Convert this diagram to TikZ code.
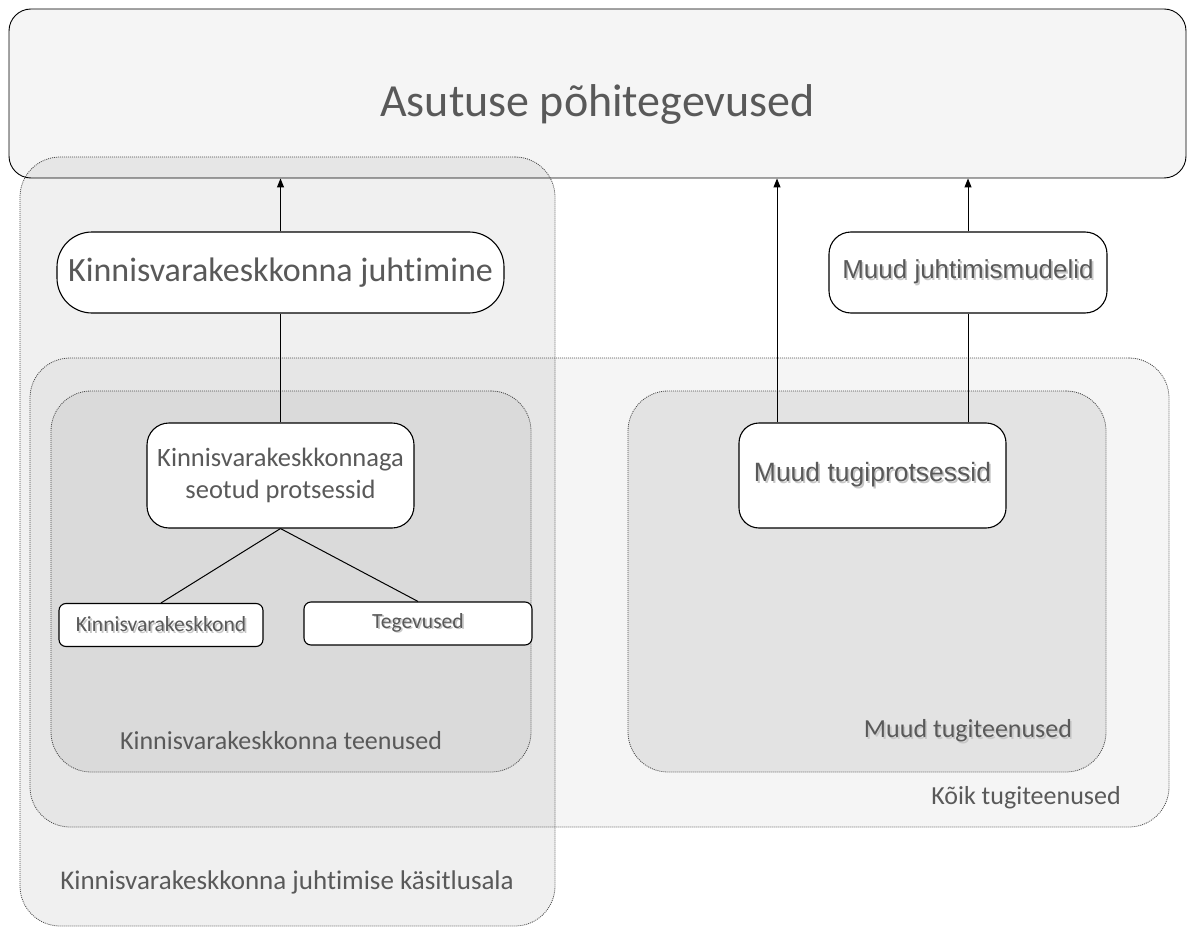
\documentclass[tikz,border=0pt]{standalone}
\usepackage{fontspec}
\setmainfont{Carlito}[Ligatures=NoCommon]
\newfontfamily\arialfam{Liberation Sans}
\usetikzlibrary{arrows.meta}
\definecolor{txt}{HTML}{595959}
\definecolor{bandfill}{HTML}{F5F5F5}
\tikzset{
  % the band of core activities on top
  band/.style   = {draw, line width=0.9pt, rounded corners=22pt, fill=bandfill,
                   text=txt, inner sep=0pt},
  % a shaded area with a dotted rim
  zone/.style   = {draw=black!70, line width=0.8pt, dash pattern=on 1pt off 1pt,
                   rounded corners=40pt, fill=black, fill opacity=#1,
                   inner sep=0pt},
  zone/.default = 0.05,
  % a white process box
  pr/.style     = {draw, line width=1.1pt, fill=white, rounded corners=22pt,
                   text=txt, align=center, inner sep=2pt},
  % a small leaf box
  leaf/.style   = {draw, line width=1.1pt, fill=white, rounded corners=7pt,
                   text=txt, inner sep=2pt},
  % an arrow up into the band
  up/.style     = {-{Triangle[length=9pt,width=7pt]}, line width=1pt},
  % a plain link
  ln/.style     = {line width=1pt},
  % the caption of a zone
  zlabel/.style = {text=txt, inner sep=1pt},
}
\newcommand{\fs}[1]{\fontsize{#1}{1.2\dimexpr#1pt\relax}\selectfont}
\newcommand{\shd}[1]{\makebox[0pt][l]{\hspace{1.6pt}\raisebox{-1.6pt}{\textcolor{black!22}{#1}}}#1}

\begin{document}
\begin{tikzpicture}[x=1pt, y=-1pt]
  \useasboundingbox (0,0) rectangle (1188,928);
  \fill[white] (0,0) rectangle (1188,928);
  % band and zones
  \node[band, minimum width=1177pt, minimum height=169pt] (top) at (597.5,93.5)
    {\raisebox{-23.5pt}[0pt][0pt]{\fs{46}Asutuse põhitegevused}};
  \node[zone=0.06, minimum width=535pt, minimum height=769pt] (scope) at (287.5,541.5) {};
  \node[zone=0.04, minimum width=1139pt, minimum height=469pt] (koik) at (599.5,592.5) {};
  \node[zone=0.05, minimum width=480pt, minimum height=381pt] (kteen) at (291,581.5) {};
  \node[zone=0.07, minimum width=478pt, minimum height=381pt] (mteen) at (867,581.5) {};
  % zone captions
  \node[zlabel] (lscope) at (287,882) {\fs{27}Kinnisvarakeskkonna juhtimise käsitlusala};
  \node[zlabel] (lkoik)  at (1026,798) {\fs{26}Kõik tugiteenused};
  \node[zlabel] (lkteen) at (281,741) {\fs{26}Kinnisvarakeskkonna teenused};
  \node[zlabel] (lmteen) at (968,732) {\fs{26}\shd{Muud tugiteenused}};
  % boxes
  \node[pr, rounded corners=35pt, minimum width=447pt, minimum height=81pt] (juht)
    at (280.5,272.5) {\fs{34}Kinnisvarakeskkonna juhtimine};
  \node[pr, minimum width=278pt, minimum height=81pt] (mjm)
    at (968,272.5) {\arialfam\fs{26}\shd{Muud juhtimismudelid}};
  \node[pr, minimum width=267pt, minimum height=105pt,
        font=\fontsize{26.5}{32}\selectfont] (seot)
    at (280.5,475.5) {Kinnisvarakeskkonnaga\\seotud protsessid};
  \node[pr, rounded corners=20pt, minimum width=267pt, minimum height=105pt] (mtp)
    at (872.5,475.5) {\arialfam\fs{26.5}\shd{Muud tugiprotsessid}};
  \node[leaf, minimum width=204pt, minimum height=43pt] (kk)
    at (161,625) {\fs{21.6}\shd{Kinnisvarakeskkond}};
  \node[leaf, minimum width=228pt, minimum height=43pt] (teg)
    at (418,623.5) {\fs{21.6}\shd{Tegevused}};
  % arrows into the band
  \draw[up] (juht.north) -- (juht.north |- top.south);
  \draw[up] ([xshift=-95.5pt]mtp.north) -- ([xshift=-95.5pt]mtp.north |- top.south);
  \draw[up] (mjm.north) -- (mjm.north |- top.south);
  % links
  \draw[ln] (seot.north) -- (juht.south);
  \draw[ln] (mtp.north -| mjm.south) -- (mjm.south);
  \draw[ln] (seot.south) -- (kk.north);
  \draw[ln] (seot.south) -- (teg.north);
\end{tikzpicture}
\end{document}
